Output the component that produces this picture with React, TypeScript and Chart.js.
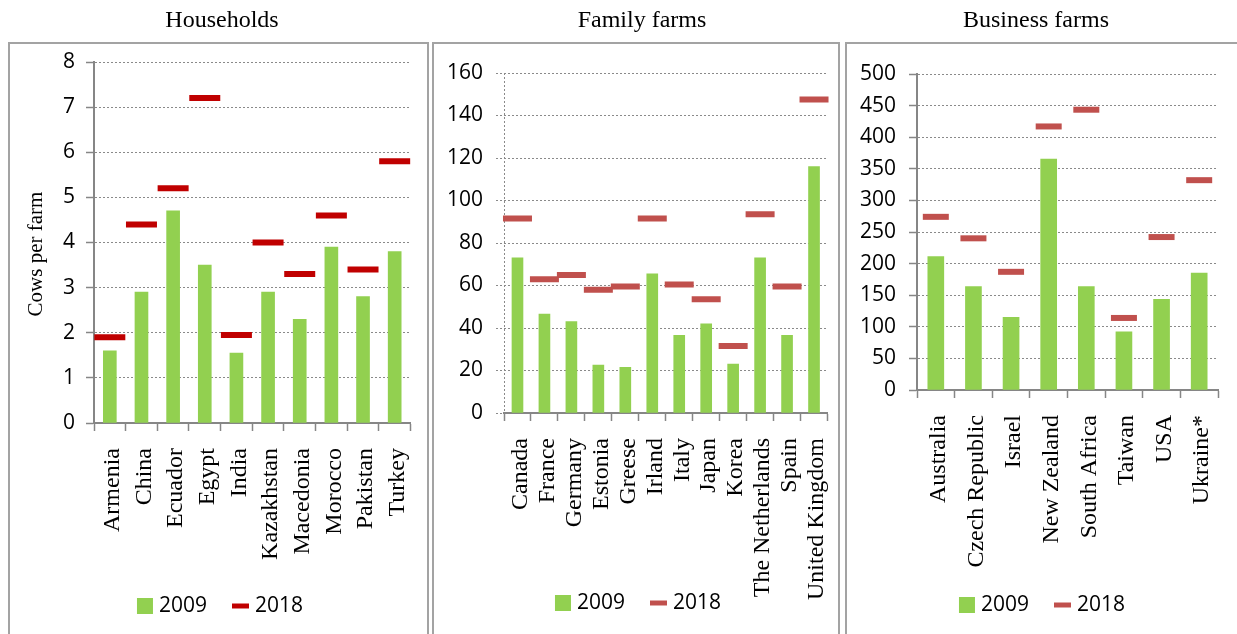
import React, { useEffect, useRef } from "react";
import { Chart, registerables } from "chart.js";

Chart.register(...registerables);

// ---------- data ----------
const seriesLabels = ["2009", "2018"];

const householdCategories = ["Armenia", "China", "Ecuador", "Egypt", "India", "Kazakhstan", "Macedonia", "Morocco", "Pakistan", "Turkey"];
const households2009 = [1.6, 2.9, 4.7, 3.5, 1.55, 2.9, 2.3, 3.9, 2.8, 3.8];
const households2018 = [1.9, 4.4, 5.2, 7.2, 1.95, 4.0, 3.3, 4.6, 3.4, 5.8];

const familyCategories = ["Canada", "France", "Germany", "Estonia", "Greese", "Irland", "Italy", "Japan", "Korea", "The Netherlands", "Spain", "United Kingdom"];
const family2009 = [73, 46.5, 43, 22.5, 21.5, 65.5, 36.5, 42, 23, 73, 36.5, 116];
const family2018 = [91.5, 63, 65, 58, 59.5, 91.5, 60.5, 53.5, 31.5, 93.5, 59.5, 147.5];

const businessCategories = ["Australia", "Czech Republic", "Israel", "New Zealand", "South Africa", "Taiwan", "USA", "Ukraine*"];
const business2009 = [211, 163.5, 115, 365.5, 163.5, 92, 143.5, 185];
const business2018 = [274, 240, 187, 417, 443.5, 114, 242, 332];

const panelTitles = ["Households", "Family farms", "Business farms"];
const yAxisTitle = "Cows per farm";
const yMaxes = [8, 160, 500];
const ySteps = [1, 20, 50];

// ---------- styles ----------
const SERIF = '"Liberation Serif", "Times New Roman", serif';
const SANS = '"Open Sans", "Noto Sans", sans-serif';
const GREEN = "#92D050";
const AXIS = "#868686";
const GRID = "#8a8a8a";
const H = 634;

type Panel = {
  title: string;
  yTitle?: string;
  categories: string[];
  bars: number[];
  marks: number[];
  markColor: string;
  yMax: number;
  yStep: number;
  left: number;
  width: number;
  padTop: number;
  padLeft: number;
  padRight: number;
  yWidth: number;
  xHeight: number;
  barThickness: number;
  markRadius: number;
  yTickPadding: number;
  dottedYAxis: boolean;
  titleX: number;
  legendX: number;
  legendY: number;
};

const panels: Panel[] = [
  {
    title: panelTitles[0], yTitle: yAxisTitle,
    categories: householdCategories, bars: households2009, marks: households2018,
    markColor: "#C00000", yMax: yMaxes[0], yStep: ySteps[0],
    left: 8, width: 424, padTop: 62, padLeft: 14, padRight: 14,
    yWidth: 72, xHeight: 211, barThickness: 13, markRadius: 15.5, yTickPadding: 11,
    dottedYAxis: false, titleX: 214, legendX: 212, legendY: 606,
  },
  {
    title: panelTitles[1],
    categories: familyCategories, bars: family2009, marks: family2018,
    markColor: "#C0504D", yMax: yMaxes[1], yStep: ySteps[1],
    left: 432, width: 416, padTop: 73, padLeft: 6, padRight: 10,
    yWidth: 66, xHeight: 221, barThickness: 11, markRadius: 14.5, yTickPadding: 13,
    dottedYAxis: true, titleX: 210, legendX: 206, legendY: 603,
  },
  {
    title: panelTitles[2],
    categories: businessCategories, bars: business2009, marks: business2018,
    markColor: "#C0504D", yMax: yMaxes[2], yStep: ySteps[2],
    left: 845, width: 392, padTop: 74, padLeft: 2, padRight: 0,
    yWidth: 70, xHeight: 244, barThickness: 16, markRadius: 13, yTickPadding: 13,
    dottedYAxis: false, titleX: 191, legendX: 197, legendY: 605,
  },
];

const boxes = [
  { left: 8, top: 42, width: 421 },
  { left: 432, top: 42, width: 408 },
  { left: 845, top: 42, width: 400 },
];

const panelTextPlugin = {
  id: "panelText",
  afterDraw(chart: any, _args: any, opts: any) {
    const ctx = chart.ctx;
    ctx.save();
    ctx.fillStyle = "#000";
    ctx.font = `24px ${SERIF}`;
    ctx.textAlign = "center";
    ctx.textBaseline = "alphabetic";
    ctx.fillText(opts.title, opts.titleX, opts.titleY);
    if (opts.yTitle) {
      ctx.font = `21px ${SERIF}`;
      ctx.translate(opts.yTitleX, opts.yTitleY);
      ctx.rotate(-Math.PI / 2);
      ctx.fillText(opts.yTitle, 0, 0);
    }
    ctx.restore();
  },
};

// Legend drawn from the chart's own datasets (label + colour)
const panelLegendPlugin = {
  id: "panelLegend",
  afterDraw(chart: any, _args: any, opts: any) {
    const ctx = chart.ctx;
    const datasets = chart.data.datasets;
    const symW = 16;
    const lineW = 17;
    const gap = 6;
    const spacing = 25;
    ctx.save();
    ctx.font = `21px ${SANS}`;
    ctx.textBaseline = "middle";
    ctx.textAlign = "left";
    const items = datasets.map((d: any) => {
      const isLine = d.type === "line";
      const w = (isLine ? lineW : symW) + gap + ctx.measureText(d.label).width;
      return { d, isLine, w };
    });
    const total = items.reduce((s: number, it: any) => s + it.w, 0) + spacing * (items.length - 1);
    let x = opts.x - total / 2;
    const cy = opts.y;
    for (const it of items) {
      if (it.isLine) {
        ctx.strokeStyle = it.d.pointBorderColor;
        ctx.lineWidth = 5;
        ctx.beginPath();
        ctx.moveTo(x, cy);
        ctx.lineTo(x + lineW, cy);
        ctx.stroke();
        x += lineW + gap;
      } else {
        ctx.fillStyle = it.d.backgroundColor;
        ctx.fillRect(x, cy - symW / 2, symW, symW);
        x += symW + gap;
      }
      ctx.fillStyle = "#000";
      ctx.fillText(it.d.label, x, cy);
      x += ctx.measureText(it.d.label).width + spacing;
    }
    ctx.restore();
  },
};

function PanelChart({ p }: { p: Panel }) {
  const ref = useRef<HTMLCanvasElement>(null);
  useEffect(() => {
    const chart = new Chart(ref.current as HTMLCanvasElement, {
      type: "bar",
      data: {
        labels: p.categories,
        datasets: [
          {
            type: "bar",
            label: seriesLabels[0],
            data: p.bars,
            backgroundColor: GREEN,
            borderWidth: 0,
            barThickness: p.barThickness,
            order: 1,
          } as any,
          {
            type: "line",
            label: seriesLabels[1],
            data: p.marks,
            showLine: false,
            pointStyle: "line",
            pointRadius: p.markRadius,
            pointHoverRadius: p.markRadius,
            pointBorderWidth: 6,
            pointHoverBorderWidth: 6,
            pointBorderColor: p.markColor,
            pointBackgroundColor: p.markColor,
            borderColor: p.markColor,
            backgroundColor: p.markColor,
            borderWidth: 6,
            order: 0,
          } as any,
        ],
      },
      options: {
        responsive: false,
        animation: false,
        layout: { padding: { top: p.padTop, left: p.padLeft, right: p.padRight, bottom: 0 } },
        plugins: {
          legend: { display: false },
          tooltip: { enabled: false },
          title: { display: false },
          panelText: {
            title: p.title,
            titleX: p.titleX,
            titleY: 27,
            yTitle: p.yTitle,
            yTitleX: 42 - p.left,
            yTitleY: 254,
          },
          panelLegend: { x: p.legendX, y: p.legendY },
        } as any,
        scales: {
          x: {
            offset: true,
            grid: {
              offset: true,
              drawOnChartArea: p.dottedYAxis,
              color: (c: any) => (c.index === 0 ? GRID : "rgba(0,0,0,0)"),
              lineWidth: 1,
              tickColor: AXIS,
              tickLength: 8,
              tickWidth: 1.5,
              tickBorderDash: [],
            },
            border: { display: true, color: AXIS, width: 2, dash: [2, 2] },
            ticks: {
              autoSkip: false,
              minRotation: 90,
              maxRotation: 90,
              padding: 17,
              labelOffset: 3,
              color: "#000",
              font: { family: SERIF, size: 24 },
            },
            afterFit: (s: any) => {
              s.height = p.xHeight;
              s.paddingLeft = 0;
              s.paddingRight = 0;
            },
          },
          y: {
            min: 0,
            max: p.yMax,
            ticks: {
              stepSize: p.yStep,
              padding: p.yTickPadding,
              color: "#000",
              font: { family: SANS, size: 21 },
            },
            grid: {
              color: GRID,
              lineWidth: 1,
              tickColor: p.dottedYAxis ? GRID : AXIS,
              tickLength: 8,
              tickWidth: p.dottedYAxis ? 1 : 1.5,
              tickBorderDash: p.dottedYAxis ? [2, 2] : [],
            },
            border: { display: !p.dottedYAxis, color: AXIS, width: 2, dash: [2, 2] },
            afterFit: (s: any) => {
              s.width = p.yWidth;
              s.paddingTop = 0;
              s.paddingBottom = 0;
            },
          },
        },
      } as any,
      plugins: [panelTextPlugin, panelLegendPlugin],
    });
    return () => chart.destroy();
  }, [p]);
  return (
    <canvas
      ref={ref}
      width={p.width}
      height={H}
      style={{ position: "absolute", left: p.left, top: 0, width: p.width, height: H }}
    />
  );
}

export default function App() {
  return (
    <div style={{ position: "absolute", left: 0, top: 0, width: 1237, height: H, overflow: "hidden", background: "#fff" }}>
      {boxes.map((b, i) => (
        <div
          key={i}
          style={{
            position: "absolute",
            left: b.left,
            top: b.top,
            width: b.width,
            height: H,
            boxSizing: "border-box",
            border: "2px solid #a3a3a3",
          }}
        />
      ))}
      {panels.map((p, i) => (
        <PanelChart key={i} p={p} />
      ))}
    </div>
  );
}
